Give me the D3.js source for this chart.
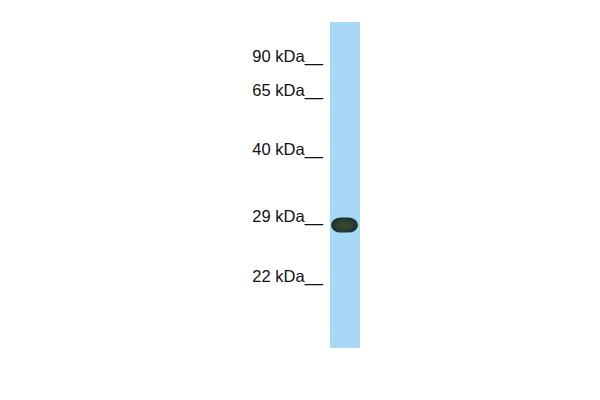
<!DOCTYPE html>
<html>
<head>
<meta charset="utf-8">
<script src="https://cdn.jsdelivr.net/npm/d3@7"></script>
<style>
  body { margin: 0; background: #fff; }
  svg { display: block; }
</style>
</head>
<body>
<script>
// marker ladder (kDa) and how far each ran down the lane (0 = top, 1 = bottom)
var markerLabels = ["90 kDa", "65 kDa", "40 kDa", "29 kDa", "22 kDa"];
var markerRf = [0.132, 0.237, 0.418, 0.622, 0.806];

// the single detected band
var bandRf = [0.623];
var bandIntensity = [1];

var width = 600,
    height = 400,
    lane = {x: 330, w: 30, top: 22, bottom: 348};

var svg = d3.select("body").append("svg")
    .attr("width", width)
    .attr("height", height);

// map migration to pixels along the lane
var y = d3.scaleLinear().domain([0, 1]).range([lane.top, lane.bottom]);

var defs = svg.append("defs");
var grad = defs.append("radialGradient").attr("id", "bandGrad");
grad.append("stop").attr("offset", "0%").attr("stop-color", "#3f4a2c");
grad.append("stop").attr("offset", "60%").attr("stop-color", "#2d3f33");
grad.append("stop").attr("offset", "100%").attr("stop-color", "#17322f");

// the lane
svg.append("rect")
    .attr("x", lane.x)
    .attr("y", y(0))
    .attr("width", lane.w)
    .attr("height", y(1) - y(0))
    .attr("fill", "#a7d9f6");

// bands
svg.selectAll(".band")
    .data(bandRf)
    .enter().append("rect")
    .attr("class", "band")
    .attr("x", lane.x + 1)
    .attr("y", function(d) { return y(d) - 7.5; })
    .attr("width", lane.w - 3)
    .attr("height", 15)
    .attr("rx", 10)
    .attr("ry", 7.5)
    .attr("fill", "url(#bandGrad)")
    .attr("opacity", function(d, i) { return bandIntensity[i]; });

// marker labels with their underscore ticks
svg.selectAll(".marker")
    .data(markerLabels)
    .enter().append("text")
    .attr("class", "marker")
    .attr("x", 323)
    .attr("y", function(d, i) { return y(markerRf[i]) - 3; })
    .attr("text-anchor", "end")
    .style("font-family", "Arial, 'Liberation Sans', sans-serif")
    .style("font-size", "16.5px")
    .style("fill", "#111")
    .text(function(d) { return d + "__"; });
</script>
</body>
</html>
